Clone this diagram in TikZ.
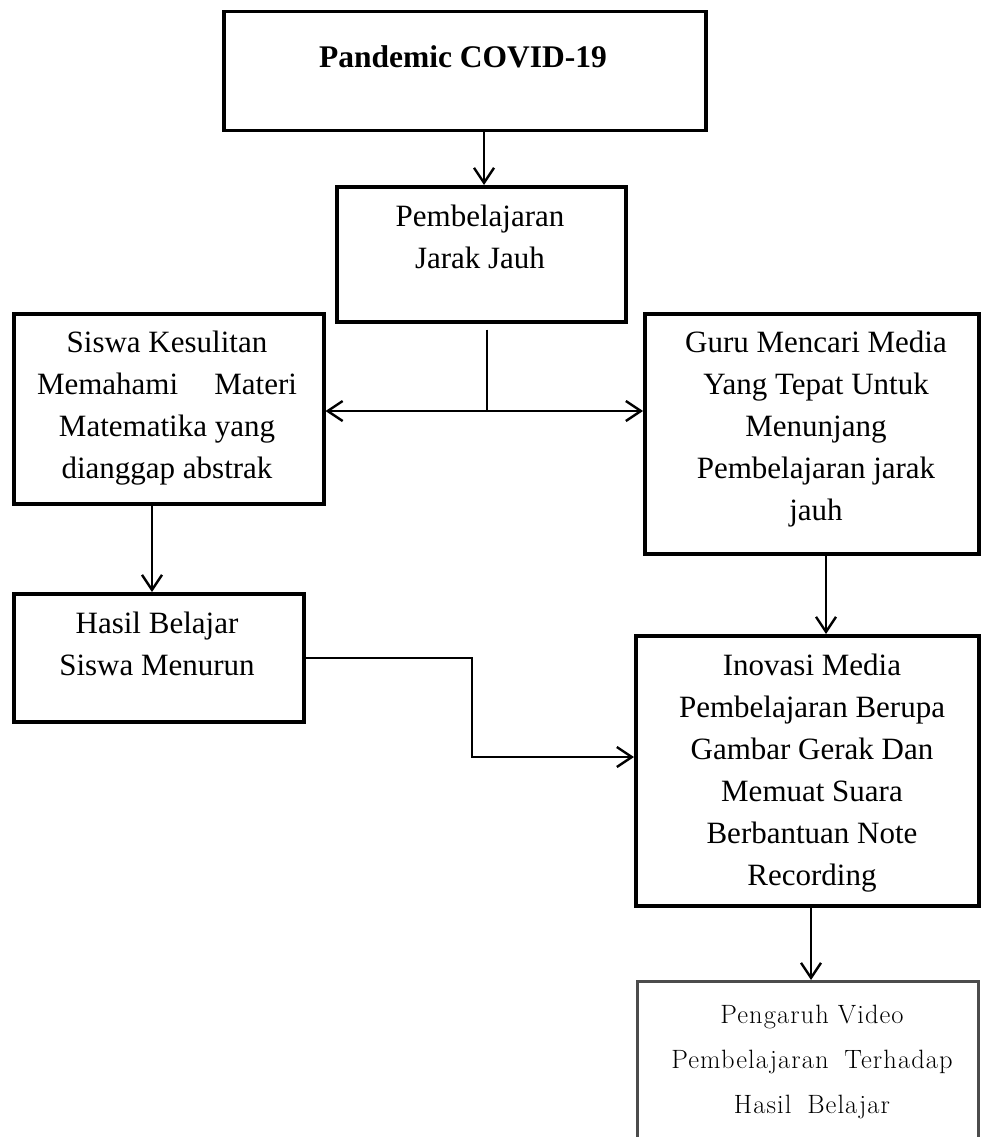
\documentclass[tikz,border=0pt]{standalone}
\usepackage{fontspec}
\setmainfont{Liberation Serif}
\newfontfamily\lmfont[LetterSpace=4]{Latin Modern Roman}
\usetikzlibrary{arrows.meta,calc}
\begin{document}
\begin{tikzpicture}[x=1pt,y=-1pt,
  box/.style={draw, line width=3.5pt, inner sep=0pt, anchor=north west, rectangle},
  greybox/.style={draw=black!70, line width=3pt, inner sep=0pt, anchor=north west, rectangle},
  txt/.style={font=\fontsize{31}{42}\selectfont, align=center, inner sep=0pt, anchor=north},
  lmtxt/.style={font=\lmfont\fontsize{26.5}{45}\selectfont, text=black, align=center, inner sep=0pt, anchor=north},
  arr/.style={line width=2.4pt, -{Straight Barb[length=15pt,width=20pt]}},
  dblarr/.style={line width=2.4pt, {Straight Barb[length=15pt,width=20pt]}-{Straight Barb[length=15pt,width=20pt]}},
  plain/.style={line width=2.4pt}
]
\fill[white] (0,0) rectangle (980,1137);
\useasboundingbox (0,0) rectangle (980,1137);

% boxes
\node[box, minimum width=482pt, minimum height=119pt] (b1) at (222,10) {};
\node[box, minimum width=289pt, minimum height=135pt] (b2) at (335,185) {};
\node[box, minimum width=310pt, minimum height=190pt] (b3) at (12,312) {};
\node[box, minimum width=334pt, minimum height=240pt] (b4) at (643,312) {};
\node[box, minimum width=290pt, minimum height=128pt] (b5) at (12,592) {};
\node[box, minimum width=343pt, minimum height=270pt] (b6) at (634,634) {};
\node[greybox, minimum width=341pt, minimum height=200pt] (b7) at (636,980) {};

% texts
\node[txt, font=\fontsize{31.5}{42}\selectfont\bfseries] (t1) at (463,45) {Pandemic COVID-19};
\node[txt] (t2) at (480,205) {Pembelajaran\\Jarak Jauh};
\node[txt] (t3) at (167,331) {Siswa Kesulitan\\\makebox[260pt]{Memahami\hfill Materi}\\Matematika yang\\dianggap abstrak};
\node[txt] (t4) at (816,331) {Guru Mencari Media\\Yang Tepat Untuk\\Menunjang\\Pembelajaran jarak\\jauh};
\node[txt] (t5) at (157,612) {Hasil Belajar\\Siswa Menurun};
\node[txt] (t6) at (812,654) {Inovasi Media\\Pembelajaran Berupa\\Gambar Gerak Dan\\Memuat Suara\\Berbantuan Note\\Recording};
\node[lmtxt] (t7) at (812,1005) {Pengaruh Video\\Pembelajaran\hspace{0.6em}Terhadap\\Hasil\hspace{0.6em}Belajar};

% connectors
\coordinate (c12) at (484,0);
\draw[arr] (b1.south -| c12) -- (b2.north -| c12);

\coordinate (j) at (487,411);
\draw[plain] ($(b2.south -| j)+(0,6)$) -- (j);
\draw[dblarr] (b3.east |- j) -- (b4.west |- j);

\coordinate (c35) at (152,0);
\draw[arr] (b3.south -| c35) -- (b5.north -| c35);

\coordinate (c46) at (826,0);
\draw[arr] (b4.south -| c46) -- (b6.north -| c46);

\coordinate (k) at (472,757);
\draw[arr] (b5.east) -| (k) -- (b6.west |- k);

\coordinate (c67) at (811,0);
\draw[arr] (b6.south -| c67) -- (b7.north -| c67);
\end{tikzpicture}
\end{document}
